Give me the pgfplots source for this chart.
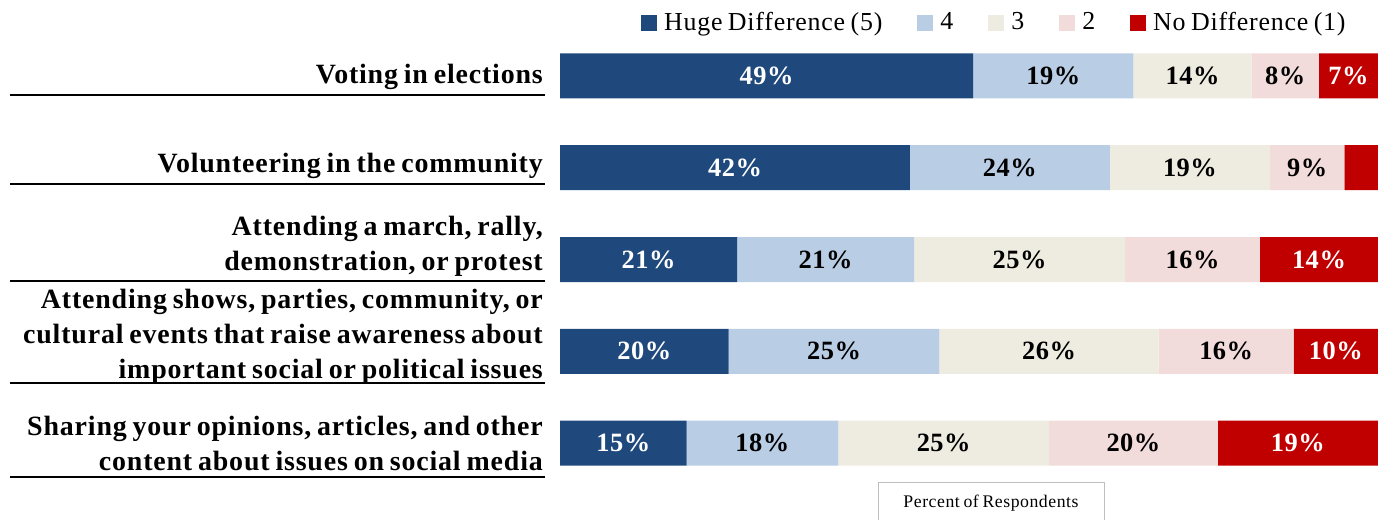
\documentclass[border=0pt]{standalone}
\usepackage{fontspec}
\setmainfont{Liberation Serif}
\usepackage{pgfplots}
\pgfplotsset{compat=1.18}
\definecolor{cA}{HTML}{1F497D}
\definecolor{cB}{HTML}{B9CDE5}
\definecolor{cC}{HTML}{EEECE1}
\definecolor{cD}{HTML}{F2DCDB}
\definecolor{cE}{HTML}{C00000}
\newfontfamily\lblfont[LetterSpace=3]{Liberation Serif}
\newfontfamily\pctfont[LetterSpace=2]{Liberation Serif}
\newfontfamily\catfont[LetterSpace=3,WordSpace=0.75]{Liberation Serif}
\begin{document}
\begin{tikzpicture}
\useasboundingbox (0,0) rectangle (1378bp,520bp);
\begin{scope}
\clip (0,0) rectangle (1378bp,520bp);
\begin{axis}[
  at={(560bp,31bp)}, anchor=south west,
  width=818bp, height=459bp, scale only axis,
  xbar stacked, bar width=45bp,
  xmin=0, xmax=97, ymin=-0.5, ymax=4.5, y dir=reverse,
  hide axis,
  point meta=explicit symbolic,
  nodes near coords,
  every node near coord/.append style={font=\pctfont\bfseries\fontsize{26.5}{26.5}\selectfont, text=black},
  legend columns=5,
  legend style={draw=none, fill=none, at={(0.963,1)}, anchor=south east, yshift=-4bp,
    inner sep=0pt, font=\lblfont\fontsize{26}{26}\selectfont,
    /tikz/every odd column/.append style={column sep=5bp},
    /tikz/every even column/.append style={column sep=33bp}},
  legend image code/.code={\fill[#1,draw=none] (0bp,-9bp) rectangle (16bp,7bp);},
]
\addplot[fill=cA, draw=none, every node near coord/.append style={text=white}] coordinates {(49,0)[49\%] (41.5,1)[42\%] (21,2)[21\%] (20,3)[20\%] (15,4)[15\%]};
\addplot[fill=cB, draw=none] coordinates {(19,0)[19\%] (23.7,1)[24\%] (21,2)[21\%] (25,3)[25\%] (18,4)[18\%]};
\addplot[fill=cC, draw=none] coordinates {(14,0)[14\%] (19,1)[19\%] (25,2)[25\%] (26,3)[26\%] (25,4)[25\%]};
\addplot[fill=cD, draw=none] coordinates {(8,0)[8\%] (8.8,1)[9\%] (16,2)[16\%] (16,3)[16\%] (20,4)[20\%]};
\addplot[fill=cE, draw=none, every node near coord/.append style={text=white}] coordinates {(7,0)[7\%] (4,1)[] (14,2)[14\%] (10,3)[10\%] (19,4)[19\%]};
\legend{Huge Difference (5),4,3,2,No Difference (1)}
\end{axis}
\begin{scope}[font=\catfont\bfseries\fontsize{28}{35}\selectfont]
\node[anchor=east, align=right, inner sep=0pt] at (543bp,443bp) {Voting in elections};
\node[anchor=east, align=right, inner sep=0pt] at (543bp,354bp) {Volunteering in the community};
\node[anchor=east, align=right, inner sep=0pt] at (543bp,273.5bp) {Attending a march, rally,\\demonstration, or protest};
\node[anchor=east, align=right, inner sep=0pt] at (543bp,183bp) {Attending shows, parties, community, or\\cultural events that raise awareness about\\important social or political issues};
\node[anchor=east, align=right, inner sep=0pt] at (543bp,76.5bp) {Sharing your opinions, articles, and other\\content about issues on social media};
\end{scope}
\foreach \yy in {425,336,239,137,43} \draw[line width=1.5bp] (10bp,\yy bp) -- (545bp,\yy bp);
\draw[draw=gray!50, line width=1bp] (878bp,-20bp) rectangle (1104bp,37bp);
\node[font=\lblfont\fontsize{17.8}{17.8}\selectfont] at (991bp,17bp) {Percent of Respondents};
\end{scope}
\end{tikzpicture}
\end{document}
